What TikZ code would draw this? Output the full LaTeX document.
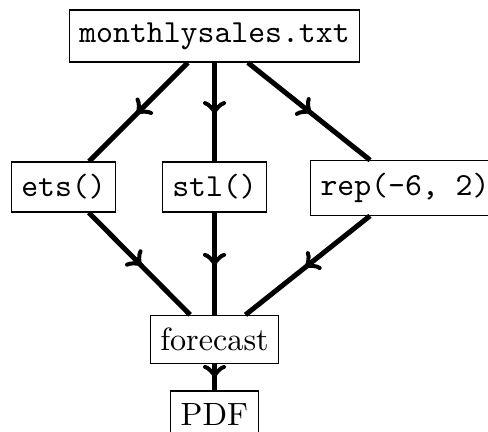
\documentclass[tikz,border=0pt]{standalone}
\usetikzlibrary{decorations.markings}
\begin{document}
\begin{tikzpicture}[x=0.32pt,y=-0.32pt,
  box/.style={draw, line width=0.4pt, inner xsep=3.2pt, inner ysep=4pt, font=\fontsize{10.3}{12}\selectfont},
  flow/.style={line width=1.6pt, postaction={decorate},
    decoration={markings, mark=at position 0.52 with {\arrow{to}}}}]
  \useasboundingbox (0,0) rectangle (488,431);
  \node[box] (src) at (214.5,36) {\texttt{monthlysales.txt}};
  \node[box] (ets) at (63.5,187) {\texttt{ets()}};
  \node[box] (stl) at (214.5,187) {\texttt{stl()}};
  \node[box] (rep) at (405,188) {\texttt{rep(-6, 2)}};
  \node[box] (fc) at (214.5,339.5) {forecast};
  \node[box] (pdf) at (214.5,414.5) {PDF};
  \draw[flow] (src) -- (ets);
  \draw[flow] (src) -- (stl);
  \draw[flow] (src) -- (rep);
  \draw[flow] (ets) -- (fc);
  \draw[flow] (stl) -- (fc);
  \draw[flow] (rep) -- (fc);
  \draw[flow] (fc) -- (pdf);
\end{tikzpicture}
\end{document}
